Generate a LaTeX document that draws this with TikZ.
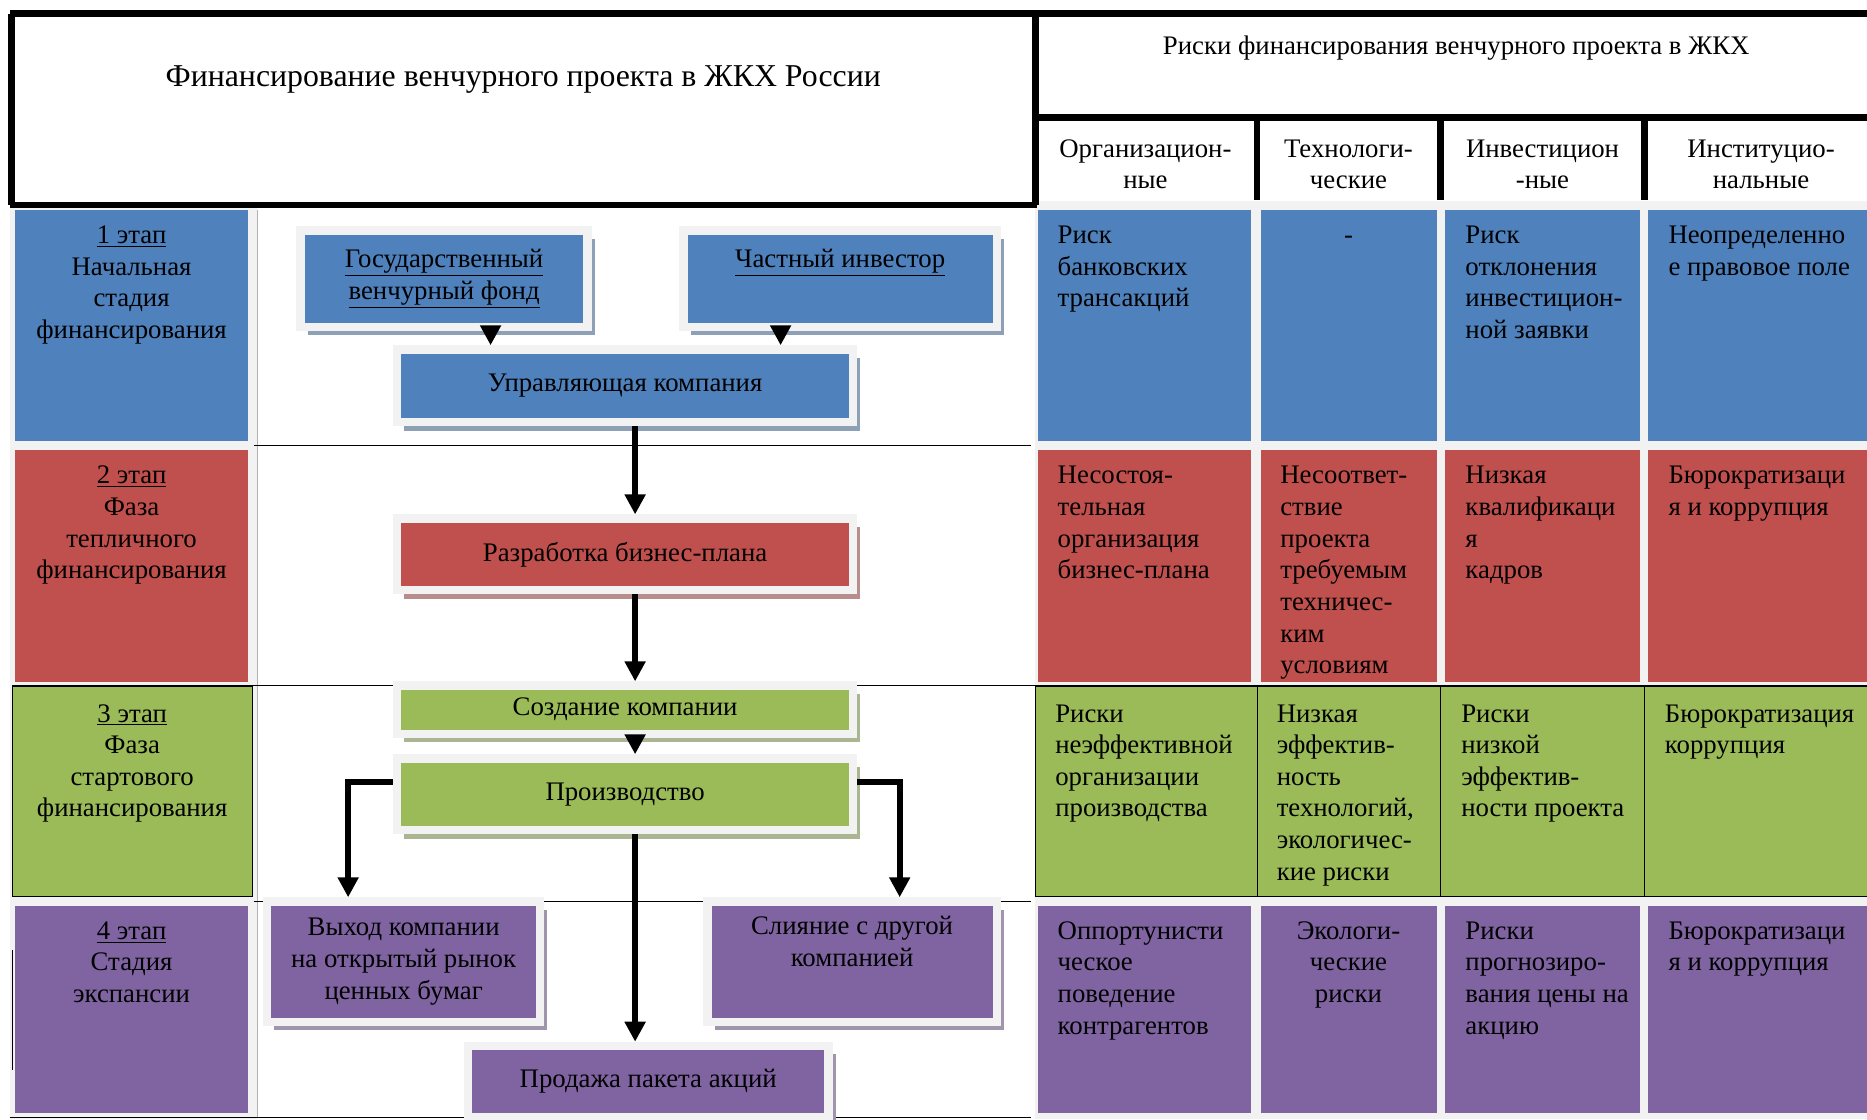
\documentclass[tikz,border=0pt]{standalone}
\usepackage{fontspec}
\setmainfont{Liberation Serif}
\usetikzlibrary{arrows.meta, shadows}

\definecolor{halo}{HTML}{F2F2F2}
\definecolor{cblue}{HTML}{4F81BD}
\definecolor{cred}{HTML}{C0504D}
\definecolor{cgreen}{HTML}{9BBB59}
\definecolor{cviolet}{HTML}{8064A2}

\begin{document}
\begin{tikzpicture}[x=0.025cm, y=-0.025cm, >={Triangle[length=0.42cm, width=0.42cm]},
    every node/.style={font=\fontsize{16}{18.9}\selectfont, inner sep=0pt},
    flow/.style={fill=#1, draw=halo, line width=0.175cm, align=center,
      drop shadow={shadow xshift=0.15cm, shadow yshift=-0.18cm, fill=#1!50!gray!75, opacity=1}},
    stage/.style={anchor=north, align=center},
    risk/.style={anchor=north west, align=left},
    link/.style={->, line width=0.13cm},
    frame/.style={line width=0.14cm}]
    \useasboundingbox (0,0) rectangle (1568,940);

    % backgrounds of the table
    \fill[halo] (8,175) rectangle (216,940);
    \fill[halo] (869,169) rectangle (1568,940);

    \fill[cblue] (12.8,176.4) rectangle (208.3,370);
    \fill[cblue] (872,176.4) rectangle (1051,370);
    \fill[cblue] (1058.7,176.4) rectangle (1206.7,370);
    \fill[cblue] (1213.6,176.4) rectangle (1377,370);
    \fill[cblue] (1384,176.4) rectangle (1568,370);

    \fill[cred] (12.8,378) rectangle (208.3,572.5);
    \fill[cred] (872,378) rectangle (1051,572.5);
    \fill[cred] (1058.7,378) rectangle (1206.7,572.5);
    \fill[cred] (1213.6,378) rectangle (1377,572.5);
    \fill[cred] (1384,378) rectangle (1568,572.5);

    \filldraw[fill=cgreen, draw=black, thin] (10,576) rectangle (212,753);
    \filldraw[fill=cgreen, draw=black, thin] (869.5,576) rectangle (1055.7,753);
    \filldraw[fill=cgreen, draw=black, thin] (1055.7,576) rectangle (1210,753);
    \filldraw[fill=cgreen, draw=black, thin] (1210,576) rectangle (1381,753);
    \filldraw[fill=cgreen, draw=black, thin] (1381,576) rectangle (1572,753);

    \fill[cviolet] (12.8,760.6) rectangle (208.3,934.5);
    \fill[cviolet] (872,760.6) rectangle (1051,934.5);
    \fill[cviolet] (1058.7,760.6) rectangle (1206.7,934.5);
    \fill[cviolet] (1213.6,760.6) rectangle (1377,934.5);
    \fill[cviolet] (1384,760.6) rectangle (1568,934.5);

    % rules
    \draw[frame] (8,11.5) -- (1568,11.5) (9.5,11.5) -- (9.5,172.2) (8,172.2) -- (871,172.2)
      (869.5,98.5) -- (1568,98.5) (1055.6,98.5) -- (1055.6,168) (1210,98.5) -- (1210,168)
      (1381,98.5) -- (1381,168);
    \draw[line width=0.16cm] (869.5,11.5) -- (869.5,172.2);
    \draw[gray!60, thin] (216,176) -- (216,938.7);
    \draw[semithick] (213,374) -- (866,374) (10,576) -- (1568,576) (213,757) -- (866,757)
      (8,938.7) -- (866,938.7);
    \draw[thin] (10,798) -- (10,899);

    % headers
    \node[font=\fontsize{19}{22}\selectfont] (title) at (439.5,67) {Финансирование венчурного проекта в ЖКХ России};
    \node (riskhead) at (1223,40) {Риски финансирования венчурного проекта в ЖКХ};
    \node[stage] (hOrg) at (962,113) {\strut Организацион-\\ные};
    \node[stage] (hTech) at (1132.5,113) {\strut Технологи-\\ческие};
    \node[stage] (hInv) at (1295.5,113) {\strut Инвестицион\\-ные};
    \node[stage] (hInst) at (1479,113) {\strut Институцио-\\нальные};

    % stages
    \node[stage] (s1) at (110.5,185.5) {\strut\underline{1 этап}\\Начальная\\стадия\\финансирования};
    \node[stage] (s2) at (110.5,387.5) {\strut\underline{2 этап}\\Фаза\\тепличного\\финансирования};
    \node[stage] (s3) at (111,587.5) {\strut\underline{3 этап}\\Фаза\\стартового\\финансирования};
    \node[stage] (s4) at (110.5,770) {\strut\underline{4 этап}\\Стадия\\экспансии};

    % flow
    \node[flow=cblue, minimum width=6.025cm, minimum height=2.025cm] (gos) at (373,234) {\underline{Государственный}\\\underline{венчурный фонд}};
    \node[flow=cblue, minimum width=6.575cm, minimum height=2.025cm] (priv) at (705.6,234) {\underline{Частный инвестор}\\\strut};
    \node[flow=cblue, minimum width=9.575cm, minimum height=1.525cm] (upr) at (525,324) {Управляющая компания};
    \node[flow=cred, minimum width=9.575cm, minimum height=1.5cm] (plan) at (525,465.5) {Разработка бизнес-плана};
    \node[flow=cgreen, minimum width=9.575cm, minimum height=1.0125cm] (found) at (525,596) {Создание компании};
    \node[flow=cgreen, minimum width=9.575cm, minimum height=1.5cm] (prod) at (525,667) {Производство};
    \node[flow=cviolet, minimum width=5.725cm, minimum height=2.525cm] (ipo) at (339,807.6) {Выход компании\\на открытый рынок\\ценных бумаг};
    \node[flow=cviolet, minimum width=6.075cm, minimum height=2.525cm] (merge) at (715.6,807.6) {Слияние с другой\\компанией\\\strut};
    \node[flow=cviolet, minimum width=7.575cm, minimum height=1.5cm] (sale) at (544.4,908.4) {Продажа пакета акций};

    \path[link]
    ([xshift=0.975cm]gos.south) edge ([xshift=0.975cm]gos.south |- upr.north)
    ([xshift=-1.25cm]priv.south) edge ([xshift=-1.25cm]priv.south |- upr.north)
    ([xshift=0.21cm]upr.south) edge ([xshift=0.21cm]upr.south |- plan.north)
    ([xshift=0.21cm]plan.south) edge ([xshift=0.21cm]plan.south |- found.north)
    ([xshift=0.21cm]found.south) edge ([xshift=0.21cm]found.south |- prod.north)
    ([xshift=0.21cm]prod.south) edge ([xshift=0.21cm]prod.south |- sale.north);
    \draw[link] ([yshift=0.25cm]prod.west) -| ([xshift=-1.165cm]ipo.north);
    \draw[link] ([yshift=0.25cm]prod.east) -| ([xshift=1cm]merge.north);

    % risks
    \node[risk] (r11) at (888,185.5) {\strut Риск\\банковских\\трансакций};
    \node[stage] (r12) at (1132.5,185.5) {\strut -};
    \node[risk] (r13) at (1230.5,185.5) {\strut Риск\\отклонения\\инвестицион-\\ной заявки};
    \node[risk] (r14) at (1401,185.5) {\strut Неопределенно\\е правовое поле};

    \node[risk] (r21) at (888,387.5) {\strut Несостоя-\\тельная\\организация\\бизнес-плана};
    \node[risk] (r22) at (1075,387.5) {\strut Несоответ-\\ствие\\проекта\\требуемым\\техничес-\\ким\\условиям};
    \node[risk] (r23) at (1230.5,387.5) {\strut Низкая\\квалификаци\\я\\кадров};
    \node[risk] (r24) at (1401,387.5) {\strut Бюрократизаци\\я и коррупция};

    \node[risk] (r31) at (886,587.5) {\strut Риски\\неэффективной\\организации\\производства};
    \node[risk] (r32) at (1072,587.5) {\strut Низкая\\эффектив-\\ность\\технологий,\\экологичес-\\кие риски};
    \node[risk] (r33) at (1227,587.5) {\strut Риски\\низкой\\эффектив-\\ности проекта};
    \node[risk] (r34) at (1398,587.5) {\strut Бюрократизация\\коррупция};

    \node[risk] (r41) at (888,770) {\strut Оппортунисти\\ческое\\поведение\\контрагентов};
    \node[stage] (r42) at (1132.5,770) {\strut Экологи-\\ческие\\риски};
    \node[risk] (r43) at (1230.5,770) {\strut Риски\\прогнозиро-\\вания цены на\\акцию};
    \node[risk] (r44) at (1401,770) {\strut Бюрократизаци\\я и коррупция};
\end{tikzpicture}
\end{document}
